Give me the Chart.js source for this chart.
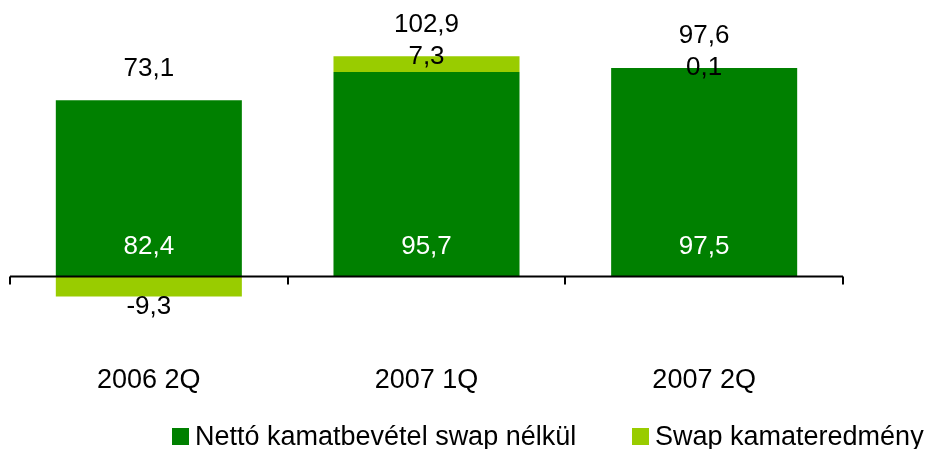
<!DOCTYPE html>
<html>
<head>
<meta charset="utf-8">
<script src="https://cdn.jsdelivr.net/npm/chart.js@4.4.1/dist/chart.umd.min.js"></script>
<style>
	body { margin: 0; background: #fff; }
	#wrap { position: relative; width: 932px; height: 449px; }
	#legend { position: absolute; left: 172px; top: 421px; margin: 0; padding: 0; list-style: none; display: flex;
		font-family: "Liberation Sans", Arial, sans-serif; font-size: 27px; color: #000; }
	#legend li { display: flex; align-items: center; height: 30px; min-width: 460px; }
	#legend li:last-child { min-width: 0; }
	#legend .box { width: 17px; height: 17px; margin-right: 6px; }
</style>
</head>
<body>
<div id="wrap">
	<canvas id="ratechart" width="932" height="449"></canvas>
	<ul id="legend"></ul>
</div>
<script>
const quarters = ["2006 2Q", "2007 1Q", "2007 2Q"];
const netInterest = [82.4, 95.7, 97.5];
const swapResult = [-9.3, 7.3, 0.1];
const totals = [73.1, 102.9, 97.6];

const darkGreen = "#008000";
const lightGreen = "#99CC00";
const fontFamily = "'Liberation Sans', Arial, sans-serif";

function huNumber(v) {
	return v.toFixed(1).replace(".", ",");
}

// zero line with the category tick marks hanging below it
const zeroAxis = {
	id: "zeroAxis",
	afterDatasetsDraw(chart) {
		const ctx = chart.ctx;
		const x = chart.scales.x;
		const y0 = chart.scales.y.getPixelForValue(0);
		const half = (x.getPixelForValue(1) - x.getPixelForValue(0)) / 2;
		ctx.save();
		ctx.strokeStyle = "#000";
		ctx.lineWidth = 2;
		ctx.beginPath();
		ctx.moveTo(chart.chartArea.left, y0);
		ctx.lineTo(chart.chartArea.right, y0);
		for (let i = 0; i <= quarters.length; i++) {
			const px = Math.round(x.getPixelForValue(i) - half);
			ctx.moveTo(px, y0);
			ctx.lineTo(px, y0 + 8);
		}
		ctx.stroke();
		ctx.restore();
	}
};

const valueLabels = {
	id: "valueLabels",
	afterDraw(chart) {
		const ctx = chart.ctx;
		const dark = chart.getDatasetMeta(0).data;
		const light = chart.getDatasetMeta(1).data;
		ctx.save();
		ctx.font = "26px " + fontFamily;
		ctx.textAlign = "center";
		ctx.textBaseline = "middle";
		dark.forEach((bar, i) => {
			ctx.fillStyle = "#fff";
			ctx.fillText(huNumber(netInterest[i]), bar.x, bar.base - 30);
		});
		light.forEach((bar, i) => {
			ctx.fillStyle = "#000";
			const off = swapResult[i] < 0 ? 10 : 0;
			ctx.fillText(huNumber(swapResult[i]), bar.x, bar.y + off);
			const top = Math.min(dark[i].y, swapResult[i] > 0 ? bar.y : dark[i].y);
			ctx.fillText(huNumber(totals[i]), bar.x, top - 32);
		});
		ctx.restore();
	}
};

const rateContext = document.getElementById("ratechart").getContext("2d");

let rateChart = new Chart(rateContext, {
	type: "bar",
	data: {
		labels: quarters,
		datasets: [
			{
				label: "Nettó kamatbevétel swap nélkül",
				data: netInterest,
				backgroundColor: darkGreen
			},
			{
				label: "Swap kamateredmény",
				data: swapResult,
				backgroundColor: lightGreen
			}
		]
	},
	options: {
		responsive: false,
		animation: false,
		layout: { padding: { left: 10, right: 89, top: 20, bottom: 50 } },
		datasets: { bar: { categoryPercentage: 1, barPercentage: 0.67 } },
		scales: {
			x: {
				stacked: true,
				grid: { display: false, drawTicks: false },
				border: { display: false },
				ticks: {
					padding: 5,
					color: "#000",
					font: { family: fontFamily, size: 27, lineHeight: 1 }
				}
			},
			y: {
				stacked: true,
				display: false,
				min: -40,
				max: 120
			}
		},
		plugins: {
			legend: { display: false },
			tooltip: { enabled: false }
		}
	},
	plugins: [zeroAxis, valueLabels]
});

const legendList = document.getElementById("legend");
rateChart.data.datasets.forEach((ds) => {
	const li = document.createElement("li");
	const box = document.createElement("span");
	box.className = "box";
	box.style.background = ds.backgroundColor;
	li.appendChild(box);
	li.appendChild(document.createTextNode(ds.label));
	legendList.appendChild(li);
});
</script>
</body>
</html>
